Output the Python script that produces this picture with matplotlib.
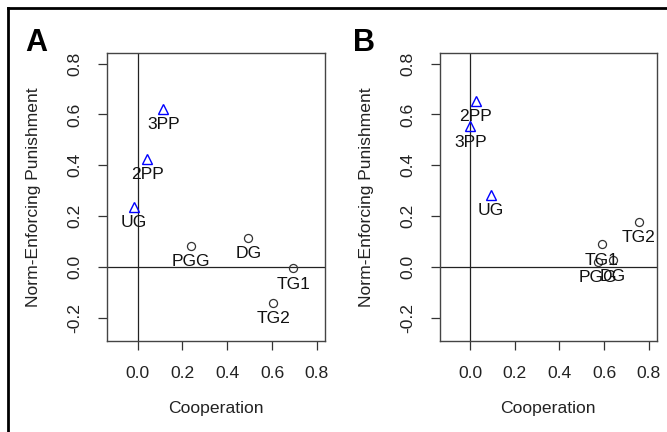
import matplotlib
matplotlib.use("Agg")
import matplotlib.pyplot as plt
from matplotlib.lines import Line2D

plt.rcParams["font.family"] = ["Liberation Sans", "DejaVu Sans"]

# panel A
a_tri_labels = ["3PP", "2PP", "UG"]
a_tri_x = [0.115, 0.043, -0.015]
a_tri_y = [0.622, 0.424, 0.236]
a_circ_labels = ["PGG", "DG", "TG1", "TG2"]
a_circ_x = [0.238, 0.494, 0.695, 0.606]
a_circ_y = [0.082, 0.115, -0.006, -0.141]

# panel B
b_tri_labels = ["2PP", "3PP", "UG"]
b_tri_x = [0.025, 0.001, 0.094]
b_tri_y = [0.652, 0.553, 0.282]
b_circ_labels = ["PGG", "TG1", "DG", "TG2"]
b_circ_x = [0.572, 0.589, 0.641, 0.755]
b_circ_y = [0.021, 0.088, 0.025, 0.177]

xticks = [0.0, 0.2, 0.4, 0.6, 0.8]
yticks = [-0.2, 0.0, 0.2, 0.4, 0.6, 0.8]

W, H = 667, 432
fig = plt.figure(figsize=(W / 100, H / 100), dpi=100)
FS = 12.6


def panel(rect, tx, ty, tl, cx, cy, cl):
    ax = fig.add_axes(rect)
    ax.axhline(0, color="#222222", lw=0.9, zorder=1)
    ax.axvline(0, color="#222222", lw=0.9, zorder=1)
    ax.plot(tx, ty, "^", ms=7, mfc="none", mec="blue", mew=1.0, ls="none", zorder=3)
    ax.plot(cx, cy, "o", ms=5.8, mfc="none", mec="#333333", mew=0.9, ls="none", zorder=3)
    for x, y, s in list(zip(tx, ty, tl)) + list(zip(cx, cy, cl)):
        ax.annotate(s, (x, y), xytext=(0, -11.3), textcoords="offset points",
                    ha="center", va="center", fontsize=FS, color="#111111", zorder=4)
    ax.set_xlim(-0.136, 0.836)
    ax.set_ylim(-0.292, 0.842)
    ax.set_xticks(xticks)
    ax.set_xticklabels([f"{v:.1f}" for v in xticks])
    ax.set_yticks(yticks)
    ax.set_yticklabels([f"{v:.1f}" for v in yticks], rotation=90, va="center")
    ax.tick_params(direction="out", length=6.8, width=0.9, color="#333333",
                   labelsize=FS, pad=11, labelcolor="#222222")
    for sp in ax.spines.values():
        sp.set_color("#444444")
        sp.set_linewidth(1.0)
    ax.set_xlabel("Cooperation", fontsize=FS, color="#222222")
    ax.set_ylabel("Norm-Enforcing Punishment", fontsize=FS, color="#222222")
    ax.xaxis.set_label_coords(0.5, -0.233)
    ax.xaxis.label.set_va("center")
    ax.yaxis.set_label_coords(-0.338, 0.5)
    ax.yaxis.label.set_va("center")
    return ax


bottom = (H - 341) / H
height = (341 - 53) / H
panel([107 / W, bottom, 218 / W, height], a_tri_x, a_tri_y, a_tri_labels,
      a_circ_x, a_circ_y, a_circ_labels)
panel([439.7 / W, bottom, 217 / W, height], b_tri_x, b_tri_y, b_tri_labels,
      b_circ_x, b_circ_y, b_circ_labels)

fig.text(25 / W, 1 - 51 / H, "A", fontsize=22, weight="bold", va="baseline")
fig.text(353 / W, 1 - 51 / H, "B", fontsize=22, weight="bold", va="baseline")

# outer frame (only top and left visible)
fig.add_artist(Line2D([8 / W, 8 / W], [0, 1 - 7.5 / H], color="black", lw=2.0))
fig.add_artist(Line2D([8 / W, 1], [1 - 7.5 / H, 1 - 7.5 / H], color="black", lw=2.0))

fig.savefig("out.png", dpi=100)
